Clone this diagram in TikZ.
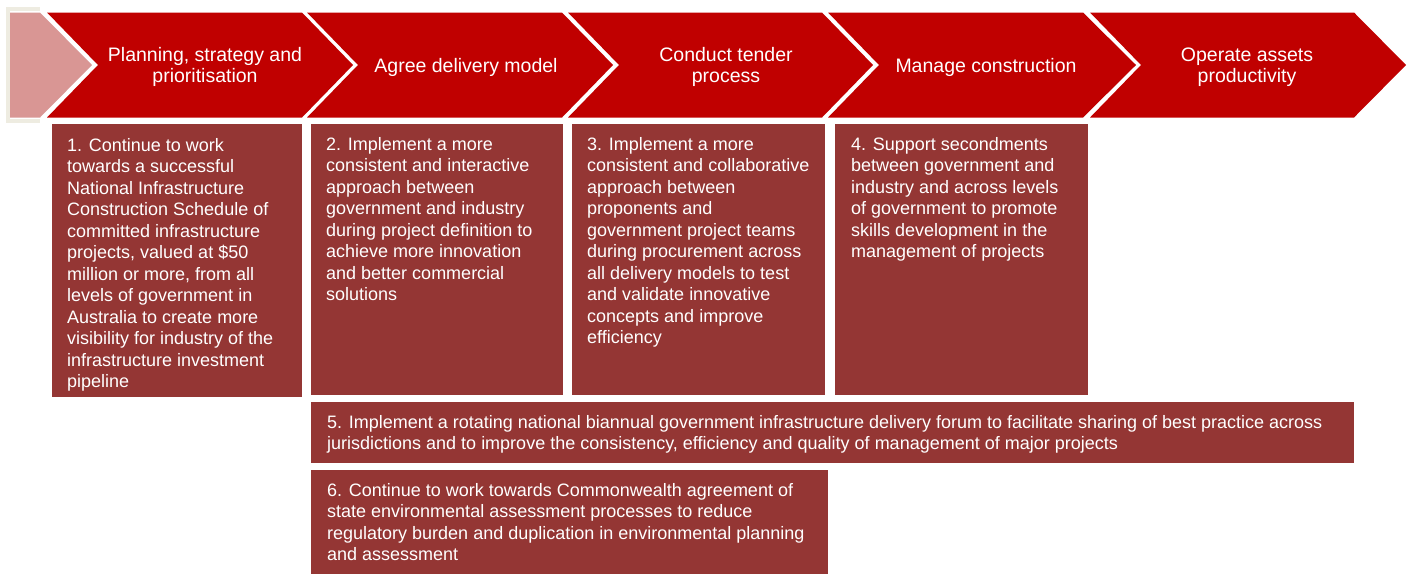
\documentclass[tikz,border=0pt]{standalone}
\usepackage{fontspec}
\setmainfont{Liberation Sans}
\definecolor{stepred}{HTML}{C00000}
\definecolor{boxred}{HTML}{943634}
\definecolor{pastpink}{HTML}{D99694}
\definecolor{framebeige}{HTML}{EEECE1}

\begin{document}
\begin{tikzpicture}[x=1pt, y=-1pt]
\tikzset{
    chevron/.style={fill=stepred},
    steptitle/.style={text=white, align=center, inner sep=0pt, font=\fontsize{19.5}{21}\selectfont},
    stepbox/.style={fill=boxred, inner sep=0pt, anchor=north west},
    boxtext/.style={text=white, align=left, inner sep=0pt, anchor=north west, font=\fontsize{18}{21.5}\selectfont}
}
    \useasboundingbox (0, 0) rectangle (1412, 574);

    \draw[framebeige, line width=4] (40, 9) -- (8, 9) -- (8, 121) -- (40, 121);
    \fill[pastpink] (10, 12.5) -- (40, 12.5) -- (92, 65) -- (40, 117.5) -- (10, 117.5) -- cycle;

    \fill[chevron] (47, 12.5) -- (302, 12.5) -- (353, 65) -- (302, 117.5) -- (47, 117.5) -- (98, 65) -- cycle;
    \fill[chevron] (307, 12.5) -- (562, 12.5) -- (613, 65) -- (562, 117.5) -- (307, 117.5) -- (358, 65) -- cycle;
    \fill[chevron] (568, 12.5) -- (822, 12.5) -- (873, 65) -- (822, 117.5) -- (568, 117.5) -- (619, 65) -- cycle;
    \fill[chevron] (828, 12.5) -- (1083, 12.5) -- (1136, 65) -- (1083, 117.5) -- (828, 117.5) -- (879, 65) -- cycle;
    \fill[chevron] (1090, 12.5) -- (1354, 12.5) -- (1406, 65) -- (1354, 117.5) -- (1090, 117.5) -- (1141, 65) -- cycle;

    \node[steptitle] (plan) at (205, 67) {Planning, strategy and\\prioritisation};
    \node[steptitle] (agree) at (466, 67) {Agree delivery model};
    \node[steptitle] (tender) at (726, 67) {Conduct tender\\process};
    \node[steptitle] (manage) at (986, 67) {Manage construction};
    \node[steptitle] (operate) at (1247, 67) {Operate assets\\productivity};

    \node[stepbox, minimum width=250, minimum height=273] (box1) at (52, 124) {};
    \node[stepbox, minimum width=252, minimum height=271] (box2) at (311, 124) {};
    \node[stepbox, minimum width=253, minimum height=271] (box3) at (572, 124) {};
    \node[stepbox, minimum width=253, minimum height=271] (box4) at (835, 124) {};
    \node[stepbox, minimum width=1043, minimum height=61] (box5) at (311, 402) {};
    \node[stepbox, minimum width=517, minimum height=104] (box6) at (311, 470) {};

    \node[boxtext] (txt1) at ([shift={(15, 14)}]box1.north west) {1. Continue to work\\towards a successful\\National Infrastructure\\Construction Schedule of\\committed infrastructure\\projects, valued at \$50\\million or more, from all\\levels of government in\\Australia to create more\\visibility for industry of the\\infrastructure investment\\pipeline};
    \node[boxtext] (txt2) at ([shift={(15, 13)}]box2.north west) {2. Implement a more\\consistent and interactive\\approach between\\government and industry\\during project definition to\\achieve more innovation\\and better commercial\\solutions};
    \node[boxtext] (txt3) at ([shift={(15, 13)}]box3.north west) {3. Implement a more\\consistent and collaborative\\approach between\\proponents and\\government project teams\\during procurement across\\all delivery models to test\\and validate innovative\\concepts and improve\\efficiency};
    \node[boxtext] (txt4) at ([shift={(16, 13)}]box4.north west) {4. Support secondments\\between government and\\industry and across levels\\of government to promote\\skills development in the\\management of projects};
    \node[boxtext] (txt5) at ([shift={(16, 13)}]box5.north west) {5. Implement a rotating national biannual government infrastructure delivery forum to facilitate sharing of best practice across\\jurisdictions and to improve the consistency, efficiency and quality of management of major projects};
    \node[boxtext] (txt6) at ([shift={(16, 13)}]box6.north west) {6. Continue to work towards Commonwealth agreement of\\state environmental assessment processes to reduce\\regulatory burden and duplication in environmental planning\\and assessment};
\end{tikzpicture}
\end{document}
